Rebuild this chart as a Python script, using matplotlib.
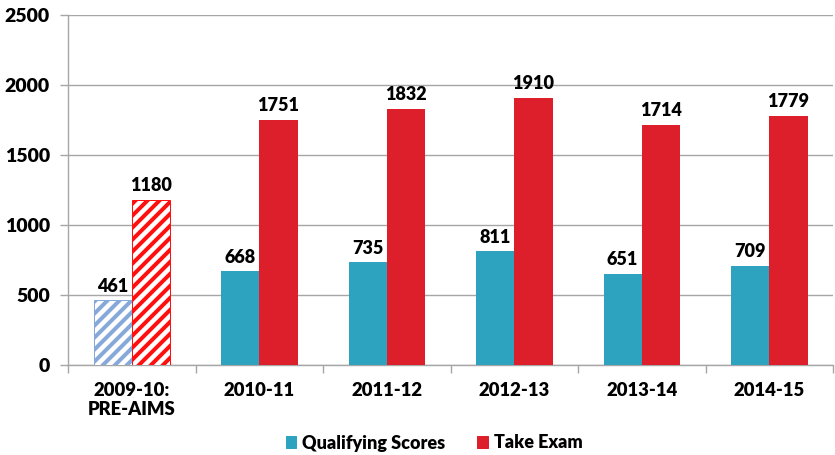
import matplotlib
matplotlib.use("Agg")
import matplotlib.pyplot as plt
import numpy as np
from matplotlib.patches import Patch

categories = ["2009-10:\nPRE-AIMS", "2010-11", "2011-12", "2012-13", "2013-14", "2014-15"]
qualifying = [461, 668, 735, 811, 651, 709]
take_exam = [1180, 1751, 1832, 1910, 1714, 1779]
yticks = [0, 500, 1000, 1500, 2000, 2500]

blue = "#2EA3C0"
red = "#DC1F2A"
DPI = 72
S = 100 / DPI  # scale so sizes match a 100-dpi layout
plt.rcParams['font.family'] = ['Lato', 'DejaVu Sans']
plt.rcParams['hatch.linewidth'] = 4.0

fig = plt.figure(figsize=(835/DPI, 455/DPI), dpi=DPI)
ax = fig.add_axes([68/835, 1-365/455, (833-68)/835, 350/455])

x = np.arange(len(categories))
w = 0.3
for i in range(len(categories)):
    if i == 0:
        ax.bar(x[i]-w/2, qualifying[i], w, facecolor="white", edgecolor="#86A9DA", hatch="//", linewidth=1, zorder=3)
        ax.bar(x[i]+w/2, take_exam[i], w, facecolor="white", edgecolor="#FF1010", hatch="//", linewidth=1, zorder=3)
    else:
        ax.bar(x[i]-w/2, qualifying[i], w, color=blue, zorder=3)
        ax.bar(x[i]+w/2, take_exam[i], w, color=red, zorder=3)
    ax.text(x[i]-w/2, qualifying[i]+40, str(qualifying[i]), ha="center", va="bottom", fontsize=13*S, fontweight="heavy")
    ax.text(x[i]+w/2, take_exam[i]+40, str(take_exam[i]), ha="center", va="bottom", fontsize=13*S, fontweight="heavy")

ax.set_xlim(-0.5, len(categories)-0.5)
ax.set_ylim(0, 2500)
ax.set_yticks(yticks)
ax.set_yticklabels([str(v) for v in yticks], fontsize=14*S, fontweight="heavy")
ax.set_xticks(x)
ax.set_xticklabels(categories, fontsize=13.3*S, fontweight="heavy")
ax.tick_params(axis="x", length=0, pad=12*S)
ax.set_xticks(np.arange(-0.5, len(categories)), minor=True)
ax.tick_params(axis="x", which="minor", length=6*S, color="#A6A6A6", width=1*S)
ax.tick_params(axis="y", length=6*S, color="#A6A6A6", width=1*S, pad=7*S)
ax.grid(axis="y", color="#A6A6A6", linewidth=1*S, zorder=0)
for s in ["top", "right"]:
    ax.spines[s].set_visible(False)
for s in ["left", "bottom"]:
    ax.spines[s].set_color("#A6A6A6")
    ax.spines[s].set_linewidth(1*S)

handles = [Patch(color=blue, label="Qualifying Scores"), Patch(color=red, label="Take Exam")]
fig.legend(handles=handles, loc="center", bbox_to_anchor=(434/835, 1-443/455), ncol=2, frameon=False,
           prop={"size": 13*S, "weight": "heavy"}, handlelength=0.6, handleheight=0.6, handletextpad=0.3, columnspacing=1.8)

fig.savefig("out.png", dpi=DPI)
